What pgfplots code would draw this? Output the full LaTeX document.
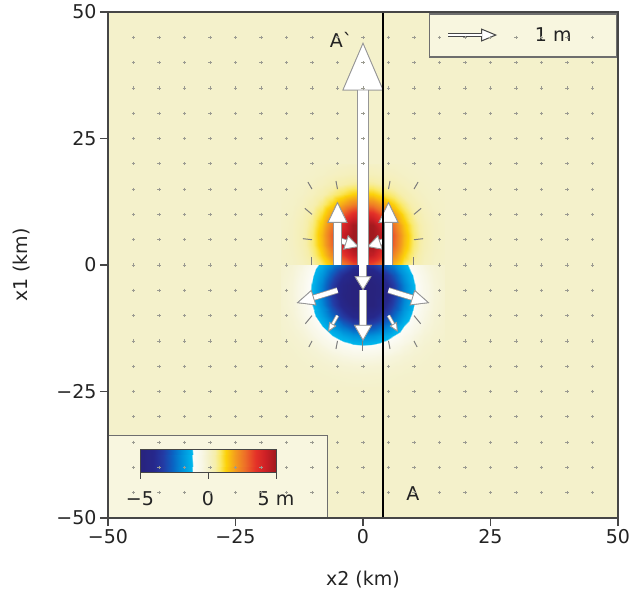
\documentclass[border=0pt]{standalone}
\usepackage{pgfplots}
\pgfplotsset{compat=1.18}
\usepackage{pgfplotstable}
\usetikzlibrary{arrows.meta}
\usepackage{fontspec}
\setmainfont{DejaVu Sans}

\definecolor{bgcream}{RGB}{244,241,203}
\definecolor{axgray}{RGB}{70,70,70}
\definecolor{arrgray}{RGB}{150,150,150}
\definecolor{tickgray}{RGB}{125,125,125}
\definecolor{dotgray}{RGB}{155,155,145}
\definecolor{boxfill}{RGB}{250,249,230}
\definecolor{boxline}{RGB}{110,110,110}
\definecolor{txt}{RGB}{35,35,35}

\newcommand\lbl{\fontsize{19}{22}\selectfont}

% displacement colour scale, -5 m (pos 0) ... 0 (pos 50) ... +5 m (pos 100)
\pgfplotsset{colormap={disp}{
  rgb255(0pt)=(40,35,125) rgb255(10pt)=(38,40,140) rgb255(17pt)=(35,60,165)
  rgb255(24pt)=(10,100,195) rgb255(30pt)=(0,140,215) rgb255(38pt)=(0,182,236)
  rgb255(39pt)=(252,252,248) rgb255(45pt)=(248,247,230) rgb255(50pt)=(244,241,203)
  rgb255(55pt)=(246,238,170) rgb255(59pt)=(250,232,100) rgb255(63pt)=(252,210,10)
  rgb255(70pt)=(243,155,30) rgb255(77pt)=(237,110,40) rgb255(85pt)=(228,50,40)
  rgb255(92pt)=(205,32,38) rgb255(100pt)=(160,25,30)}}

% horizontal displacement vectors, grouped by drawing size
\pgfplotstableread[row sep=\\]{x y u v\\ 0 0 0 44\\}\tA
\pgfplotstableread[row sep=\\]{x y u v\\ -5 0 0 12.5\\ 5 0 0 12.5\\}\tB
\pgfplotstableread[row sep=\\]{x y u v\\ -5 5 4.2 -1.4\\ 5 5 -4.2 -1.4\\}\tC
\pgfplotstableread[row sep=\\]{x y u v\\ 0 5 0 -10\\}\tD
\pgfplotstableread[row sep=\\]{x y u v\\ 0 -5 0 -10\\}\tE
\pgfplotstableread[row sep=\\]{x y u v\\ -5 -5 -8 -2.5\\ 5 -5 8 -2.5\\}\tF
\pgfplotstableread[row sep=\\]{x y u v\\ -5 -10 -1.8 -3.2\\ 5 -10 1.8 -3.2\\}\tG
\pgfplotstableread[row sep=\\]{x y u v\\
-10 15 -0.8 1.4\\ -5 15 -0.3 1.6\\ 5 15 0.3 1.6\\ 10 15 0.8 1.4\\
-10 10 -1.4 1.2\\ 10 10 1.4 1.2\\
-10 5 -1.8 0.2\\ 10 5 1.8 0.2\\
-10 0 0 1.5\\ 10 0 0 1.5\\
-10 -10 -1.3 -1.6\\ 10 -10 1.3 -1.6\\
-10 -15 -0.6 -1.2\\ -5 -15 -0.3 -1.6\\ 0 -15 0 -2\\ 5 -15 0.3 -1.6\\ 10 -15 0.6 -1.2\\}\tH

% #1 table, #2 outline width, #3 shaft width, #4 head width, #5 head length
\newcommand\fatquiver[5]{%
  \addplot[draw=arrgray, line width=#2,
    -{Triangle[width=#4, length=#5, line width=0.8pt, color=arrgray]},
    quiver={u=\thisrow{u}, v=\thisrow{v}}] table {#1};
  \addplot[draw=white, line width=#3,
    -{Triangle[width=#4, length=#5, line width=0.8pt, color=arrgray, fill=white]},
    quiver={u=\thisrow{u}, v=\thisrow{v}}] table {#1};
}

\begin{document}
\begin{tikzpicture}
\useasboundingbox (-108pt,-85pt) rectangle (525pt,518pt);
\begin{axis}[
  at={(0,0)}, anchor=south west,
  scale only axis, width=510pt, height=506pt,
  xmin=-50, xmax=50, ymin=-50, ymax=50,
  axis on top,
  axis background/.style={fill=bgcream},
  xtick={-50,-25,0,25,50}, ytick={-50,-25,0,25,50},
  xticklabels={−50,−25,0,25,50}, yticklabels={−50,−25,0,25,50},
  tick align=outside, tick pos=left, major tick length=8pt,
  tick style={draw=axgray, line width=1.2pt},
  axis line style={draw=axgray, line width=1.6pt},
  tick label style={font=\lbl, text=txt},
  xlabel={x2 (km)}, ylabel={x1 (km)},
  label style={font=\lbl, text=txt},
  xlabel style={at={(axis description cs:0.5,-0.1225)}, anchor=center},
  ylabel style={at={(axis description cs:-0.1686,0.5)}, anchor=center},
  colormap name=disp, point meta min=-5, point meta max=5,
]

% vertical displacement, south half (m)
\addplot[surf, shader=interp, mesh/cols=17, point meta=explicit] coordinates {
(-16,-24)[0] (-14,-24)[0] (-12,-24)[0] (-10,-24)[0] (-8,-24)[-0.01] (-6,-24)[-0.02] (-4,-24)[-0.02] (-2,-24)[-0.03] (0,-24)[-0.03] (2,-24)[-0.03] (4,-24)[-0.02] (6,-24)[-0.02] (8,-24)[-0.01] (10,-24)[0] (12,-24)[0] (14,-24)[0] (16,-24)[0]
(-16,-22)[0] (-14,-22)[0] (-12,-22)[-0.01] (-10,-22)[-0.02] (-8,-22)[-0.03] (-6,-22)[-0.05] (-4,-22)[-0.07] (-2,-22)[-0.08] (0,-22)[-0.09] (2,-22)[-0.08] (4,-22)[-0.07] (6,-22)[-0.05] (8,-22)[-0.03] (10,-22)[-0.02] (12,-22)[-0.01] (14,-22)[0] (16,-22)[0]
(-16,-20)[0] (-14,-20)[-0.01] (-12,-20)[-0.02] (-10,-20)[-0.05] (-8,-20)[-0.08] (-6,-20)[-0.13] (-4,-20)[-0.18] (-2,-20)[-0.21] (0,-20)[-0.22] (2,-20)[-0.21] (4,-20)[-0.18] (6,-20)[-0.13] (8,-20)[-0.08] (10,-20)[-0.05] (12,-20)[-0.02] (14,-20)[-0.01] (16,-20)[0]
(-16,-18)[-0.01] (-14,-18)[-0.02] (-12,-18)[-0.06] (-10,-18)[-0.11] (-8,-18)[-0.19] (-6,-18)[-0.30] (-4,-18)[-0.41] (-2,-18)[-0.49] (0,-18)[-0.52] (2,-18)[-0.49] (4,-18)[-0.41] (6,-18)[-0.30] (8,-18)[-0.19] (10,-18)[-0.11] (12,-18)[-0.06] (14,-18)[-0.02] (16,-18)[-0.01]
(-16,-16)[-0.02] (-14,-16)[-0.05] (-12,-16)[-0.11] (-10,-16)[-0.22] (-8,-16)[-0.39] (-6,-16)[-0.61] (-4,-16)[-0.83] (-2,-16)[-1.01] (0,-16)[-1.07] (2,-16)[-1.01] (4,-16)[-0.83] (6,-16)[-0.61] (8,-16)[-0.39] (10,-16)[-0.22] (12,-16)[-0.11] (14,-16)[-0.05] (16,-16)[-0.02]
(-16,-14)[-0.04] (-14,-14)[-0.09] (-12,-14)[-0.20] (-10,-14)[-0.41] (-8,-14)[-0.71] (-6,-14)[-1.11] (-4,-14)[-1.51] (-2,-14)[-1.82] (0,-14)[-1.94] (2,-14)[-1.82] (4,-14)[-1.51] (6,-14)[-1.11] (8,-14)[-0.71] (10,-14)[-0.41] (12,-14)[-0.20] (14,-14)[-0.09] (16,-14)[-0.04]
(-16,-12)[-0.06] (-14,-12)[-0.15] (-12,-12)[-0.33] (-10,-12)[-0.65] (-8,-12)[-1.14] (-6,-12)[-1.77] (-4,-12)[-2.41] (-2,-12)[-2.91] (0,-12)[-3.10] (2,-12)[-2.91] (4,-12)[-2.41] (6,-12)[-1.77] (8,-12)[-1.14] (10,-12)[-0.65] (12,-12)[-0.33] (14,-12)[-0.15] (16,-12)[-0.06]
(-16,-10)[-0.08] (-14,-10)[-0.20] (-12,-10)[-0.46] (-10,-10)[-0.92] (-8,-10)[-1.61] (-6,-10)[-2.49] (-4,-10)[-3.41] (-2,-10)[-4.11] (0,-10)[-4.37] (2,-10)[-4.11] (4,-10)[-3.41] (6,-10)[-2.49] (8,-10)[-1.61] (10,-10)[-0.92] (12,-10)[-0.46] (14,-10)[-0.20] (16,-10)[-0.08]
(-16,-8)[-0.10] (-14,-8)[-0.25] (-12,-8)[-0.57] (-10,-8)[-1.14] (-8,-8)[-2.00] (-6,-8)[-3.10] (-4,-8)[-4.24] (-2,-8)[-5.11] (0,-8)[-5.44] (2,-8)[-5.11] (4,-8)[-4.24] (6,-8)[-3.10] (8,-8)[-2.00] (10,-8)[-1.14] (12,-8)[-0.57] (14,-8)[-0.25] (16,-8)[-0.10]
(-16,-6)[-0.11] (-14,-6)[-0.28] (-12,-6)[-0.63] (-10,-6)[-1.25] (-8,-6)[-2.20] (-6,-6)[-3.41] (-4,-6)[-4.65] (-2,-6)[-5.61] (0,-6)[-5.98] (2,-6)[-5.61] (4,-6)[-4.65] (6,-6)[-3.41] (8,-6)[-2.20] (10,-6)[-1.25] (12,-6)[-0.63] (14,-6)[-0.28] (16,-6)[-0.11]
(-16,-4)[-0.11] (-14,-4)[-0.27] (-12,-4)[-0.61] (-10,-4)[-1.21] (-8,-4)[-2.13] (-6,-4)[-3.30] (-4,-4)[-4.51] (-2,-4)[-5.44] (0,-4)[-5.79] (2,-4)[-5.44] (4,-4)[-4.51] (6,-4)[-3.30] (8,-4)[-2.13] (10,-4)[-1.21] (12,-4)[-0.61] (14,-4)[-0.27] (16,-4)[-0.11]
(-16,-2)[-0.09] (-14,-2)[-0.23] (-12,-2)[-0.52] (-10,-2)[-1.04] (-8,-2)[-1.82] (-6,-2)[-2.82] (-4,-2)[-3.86] (-2,-2)[-4.65] (0,-2)[-4.95] (2,-2)[-4.65] (4,-2)[-3.86] (6,-2)[-2.82] (8,-2)[-1.82] (10,-2)[-1.04] (12,-2)[-0.52] (14,-2)[-0.23] (16,-2)[-0.09]
(-16,0)[-0.07] (-14,0)[-0.18] (-12,0)[-0.39] (-10,0)[-0.78] (-8,0)[-1.38] (-6,0)[-2.13] (-4,0)[-2.74] (-2,0)[-3.51] (0,0)[-3.74] (2,0)[-3.51] (4,0)[-2.74] (6,0)[-2.13] (8,0)[-1.38] (10,0)[-0.78] (12,0)[-0.39] (14,0)[-0.18] (16,0)[-0.07]
};

% vertical displacement, north half (m)
\addplot[surf, shader=interp, mesh/cols=17, point meta=explicit] coordinates {
(-16,0)[0.02] (-14,0)[0.07] (-12,0)[0.18] (-10,0)[0.44] (-8,0)[0.91] (-6,0)[1.59] (-4,0)[2.38] (-2,0)[3.02] (0,0)[3.28] (2,0)[3.02] (4,0)[2.38] (6,0)[1.59] (8,0)[0.91] (10,0)[0.44] (12,0)[0.18] (14,0)[0.07] (16,0)[0.02]
(-16,2)[0.03] (-14,2)[0.09] (-12,2)[0.26] (-10,2)[0.64] (-8,2)[1.31] (-6,2)[2.29] (-4,2)[3.41] (-2,2)[4.34] (0,2)[4.70] (2,2)[4.34] (4,2)[3.41] (6,2)[2.29] (8,2)[1.31] (10,2)[0.64] (12,2)[0.26] (14,2)[0.09] (16,2)[0.03]
(-16,4)[0.03] (-14,4)[0.11] (-12,4)[0.32] (-10,4)[0.78] (-8,4)[1.59] (-6,4)[2.79] (-4,4)[4.17] (-2,4)[5.30] (0,4)[5.74] (2,4)[5.30] (4,4)[4.17] (6,4)[2.79] (8,4)[1.59] (10,4)[0.78] (12,4)[0.32] (14,4)[0.11] (16,4)[0.03]
(-16,6)[0.04] (-14,6)[0.12] (-12,6)[0.33] (-10,6)[0.81] (-8,6)[1.66] (-6,6)[2.91] (-4,6)[4.34] (-2,6)[5.51] (0,6)[5.97] (2,6)[5.51] (4,6)[4.34] (6,6)[2.91] (8,6)[1.66] (10,6)[0.81] (12,6)[0.33] (14,6)[0.12] (16,6)[0.04]
(-16,8)[0.03] (-14,8)[0.11] (-12,8)[0.30] (-10,8)[0.72] (-8,8)[1.47] (-6,8)[2.58] (-4,8)[3.84] (-2,8)[4.89] (0,8)[5.30] (2,8)[4.89] (4,8)[3.84] (6,8)[2.58] (8,8)[1.47] (10,8)[0.72] (12,8)[0.30] (14,8)[0.11] (16,8)[0.03]
(-16,10)[0.02] (-14,10)[0.08] (-12,10)[0.22] (-10,10)[0.54] (-8,10)[1.11] (-6,10)[1.95] (-4,10)[2.91] (-2,10)[3.69] (0,10)[4.00] (2,10)[3.69] (4,10)[2.91] (6,10)[1.95] (8,10)[1.11] (10,10)[0.54] (12,10)[0.22] (14,10)[0.08] (16,10)[0.02]
(-16,12)[0.02] (-14,12)[0.05] (-12,12)[0.14] (-10,12)[0.35] (-8,12)[0.72] (-6,12)[1.25] (-4,12)[1.87] (-2,12)[2.38] (0,12)[2.58] (2,12)[2.38] (4,12)[1.87] (6,12)[1.25] (8,12)[0.72] (10,12)[0.35] (12,12)[0.14] (14,12)[0.05] (16,12)[0.02]
(-16,14)[0.01] (-14,14)[0.03] (-12,14)[0.08] (-10,14)[0.19] (-8,14)[0.39] (-6,14)[0.69] (-4,14)[1.03] (-2,14)[1.31] (0,14)[1.41] (2,14)[1.31] (4,14)[1.03] (6,14)[0.69] (8,14)[0.39] (10,14)[0.19] (12,14)[0.08] (14,14)[0.03] (16,14)[0.01]
(-16,16)[0] (-14,16)[0.01] (-12,16)[0.04] (-10,16)[0.09] (-8,16)[0.18] (-6,16)[0.32] (-4,16)[0.48] (-2,16)[0.61] (0,16)[0.66] (2,16)[0.61] (4,16)[0.48] (6,16)[0.32] (8,16)[0.18] (10,16)[0.09] (12,16)[0.04] (14,16)[0.01] (16,16)[0]
(-16,18)[0] (-14,18)[0] (-12,18)[0.01] (-10,18)[0.03] (-8,18)[0.07] (-6,18)[0.13] (-4,18)[0.19] (-2,18)[0.24] (0,18)[0.26] (2,18)[0.24] (4,18)[0.19] (6,18)[0.13] (8,18)[0.07] (10,18)[0.03] (12,18)[0.01] (14,18)[0] (16,18)[0]
(-16,20)[0] (-14,20)[0] (-12,20)[0] (-10,20)[0.01] (-8,20)[0.02] (-6,20)[0.04] (-4,20)[0.06] (-2,20)[0.08] (0,20)[0.09] (2,20)[0.08] (4,20)[0.06] (6,20)[0.04] (8,20)[0.02] (10,20)[0.01] (12,20)[0] (14,20)[0] (16,20)[0]
};

% vectors too short to show as arrows
\addplot[only marks, mark=+, mark size=1.6pt, mark options={draw=dotgray, line width=0.7pt}] coordinates {
(-45,-45) (-40,-45) (-35,-45) (-30,-45) (-25,-45) (-20,-45) (-15,-45) (-10,-45) (-5,-45) (0,-45) (5,-45) (10,-45) (15,-45) (20,-45) (25,-45) (30,-45) (35,-45) (40,-45) (45,-45)
(-45,-40) (-40,-40) (-35,-40) (-30,-40) (-25,-40) (-20,-40) (-15,-40) (-10,-40) (-5,-40) (0,-40) (5,-40) (10,-40) (15,-40) (20,-40) (25,-40) (30,-40) (35,-40) (40,-40) (45,-40)
(-45,-35) (-40,-35) (-35,-35) (-30,-35) (-25,-35) (-20,-35) (-15,-35) (-10,-35) (-5,-35) (0,-35) (5,-35) (10,-35) (15,-35) (20,-35) (25,-35) (30,-35) (35,-35) (40,-35) (45,-35)
(-45,-30) (-40,-30) (-35,-30) (-30,-30) (-25,-30) (-20,-30) (-15,-30) (-10,-30) (-5,-30) (0,-30) (5,-30) (10,-30) (15,-30) (20,-30) (25,-30) (30,-30) (35,-30) (40,-30) (45,-30)
(-45,-25) (-40,-25) (-35,-25) (-30,-25) (-25,-25) (-20,-25) (-15,-25) (-10,-25) (-5,-25) (0,-25) (5,-25) (10,-25) (15,-25) (20,-25) (25,-25) (30,-25) (35,-25) (40,-25) (45,-25)
(-45,-20) (-40,-20) (-35,-20) (-30,-20) (-25,-20) (-20,-20) (-15,-20) (-10,-20) (-5,-20) (0,-20) (5,-20) (10,-20) (15,-20) (20,-20) (25,-20) (30,-20) (35,-20) (40,-20) (45,-20)
(-45,-15) (-40,-15) (-35,-15) (-30,-15) (-25,-15) (-20,-15) (-15,-15) (15,-15) (20,-15) (25,-15) (30,-15) (35,-15) (40,-15) (45,-15)
(-45,-10) (-40,-10) (-35,-10) (-30,-10) (-25,-10) (-20,-10) (-15,-10) (15,-10) (20,-10) (25,-10) (30,-10) (35,-10) (40,-10) (45,-10)
(-45,-5) (-40,-5) (-35,-5) (-30,-5) (-25,-5) (-20,-5) (-15,-5) (15,-5) (20,-5) (25,-5) (30,-5) (35,-5) (40,-5) (45,-5)
(-45,0) (-40,0) (-35,0) (-30,0) (-25,0) (-20,0) (-15,0) (15,0) (20,0) (25,0) (30,0) (35,0) (40,0) (45,0)
(-45,5) (-40,5) (-35,5) (-30,5) (-25,5) (-20,5) (-15,5) (15,5) (20,5) (25,5) (30,5) (35,5) (40,5) (45,5)
(-45,10) (-40,10) (-35,10) (-30,10) (-25,10) (-20,10) (-15,10) (15,10) (20,10) (25,10) (30,10) (35,10) (40,10) (45,10)
(-45,15) (-40,15) (-35,15) (-30,15) (-25,15) (-20,15) (-15,15) (15,15) (20,15) (25,15) (30,15) (35,15) (40,15) (45,15)
(-45,20) (-40,20) (-35,20) (-30,20) (-25,20) (-20,20) (-15,20) (-10,20) (-5,20) (0,20) (5,20) (10,20) (15,20) (20,20) (25,20) (30,20) (35,20) (40,20) (45,20)
(-45,25) (-40,25) (-35,25) (-30,25) (-25,25) (-20,25) (-15,25) (-10,25) (-5,25) (0,25) (5,25) (10,25) (15,25) (20,25) (25,25) (30,25) (35,25) (40,25) (45,25)
(-45,30) (-40,30) (-35,30) (-30,30) (-25,30) (-20,30) (-15,30) (-10,30) (-5,30) (0,30) (5,30) (10,30) (15,30) (20,30) (25,30) (30,30) (35,30) (40,30) (45,30)
(-45,35) (-40,35) (-35,35) (-30,35) (-25,35) (-20,35) (-15,35) (-10,35) (-5,35) (0,35) (5,35) (10,35) (15,35) (20,35) (25,35) (30,35) (35,35) (40,35) (45,35)
(-45,40) (-40,40) (-35,40) (-30,40) (-25,40) (-20,40) (-15,40) (-10,40) (-5,40) (0,40) (5,40) (10,40) (15,40) (20,40) (25,40) (30,40) (35,40) (40,40) (45,40)
(-45,45) (-40,45) (-35,45) (-30,45) (-25,45) (-20,45) (-15,45) (-10,45) (-5,45) (0,45) (5,45) (10,45) (15,45) (20,45) (25,45) (30,45) (35,45) (40,45) (45,45)
};

% legend panels
\draw[draw=boxline, line width=1pt, fill=boxfill, fill opacity=0.75] (axis cs:-50,-50) rectangle (axis cs:-6.9,-33.6);
\draw[draw=boxline, line width=1.2pt, fill=boxfill, fill opacity=0.75] (axis cs:13.1,41.1) rectangle (axis cs:49.8,49.6);

% colour key: strip running from -5 m to +5 m
\addplot[surf, shader=interp, mesh/cols=2, point meta=explicit] coordinates {
(-43.73,-40.91)[-5] (-17.06,-40.91)[5]
(-43.73,-36.36)[-5] (-17.06,-36.36)[5]
};
\draw[draw=axgray, line width=0.8pt] (axis cs:-43.73,-40.91) rectangle (axis cs:-17.06,-36.36);
\draw[draw=axgray, line width=0.8pt] (axis cs:-43.73,-40.91) -- ([yshift=-7pt]axis cs:-43.73,-40.91);
\draw[draw=axgray, line width=0.8pt] (axis cs:-30.395,-40.91) -- ([yshift=-7pt]axis cs:-30.395,-40.91);
\draw[draw=axgray, line width=0.8pt] (axis cs:-17.06,-40.91) -- ([yshift=-7pt]axis cs:-17.06,-40.91);
\node[font=\lbl, text=txt, anchor=base, inner sep=0pt] at (axis cs:-43.73,-47.53) {−5};
\node[font=\lbl, text=txt, anchor=base, inner sep=0pt] at (axis cs:-30.395,-47.53) {0};
\node[font=\lbl, text=txt, anchor=base, inner sep=0pt] at (axis cs:-17.06,-47.53) {5 m};

% scale arrow
\draw[draw=axgray, line width=4.6pt] (axis cs:16.7,45.45) -- (axis cs:23.2,45.45);
\draw[draw=white, line width=2.6pt, -{Triangle[width=13pt, length=16pt, line width=1pt, color=axgray, fill=white]}] (axis cs:16.7,45.45) -- (axis cs:26.3,45.45);
\draw[draw=white, line width=2.6pt] (axis cs:16.85,45.45) -- (axis cs:23.4,45.45);
\node[font=\lbl, text=txt] at (axis cs:37.3,45.45) {1 m};

% small radial vectors
\addplot[draw=tickgray, line width=1pt, quiver={u=\thisrow{u}, v=\thisrow{v}}] table {\tH};
\fatquiver{\tG}{3.6pt}{2pt}{8pt}{9pt}
\fatquiver{\tF}{6.1pt}{4.5pt}{16pt}{18pt}
\fatquiver{\tC}{6.1pt}{4.5pt}{15pt}{14pt}
\fatquiver{\tD}{8.6pt}{7pt}{17pt}{14pt}
\fatquiver{\tE}{7.6pt}{6pt}{18pt}{16pt}
\fatquiver{\tB}{8.6pt}{7pt}{20pt}{21pt}
\fatquiver{\tA}{11.6pt}{10pt}{41pt}{48pt}

% profile A'-A
\addplot[black, line width=2pt] coordinates {(4,-50) (4,50)};
\node[font=\lbl, text=txt] at (axis cs:-4.3,44.5) {A\textasciigrave};
\node[font=\lbl, text=txt] at (axis cs:9.8,-45.1) {A};
\end{axis}
\end{tikzpicture}
\end{document}
